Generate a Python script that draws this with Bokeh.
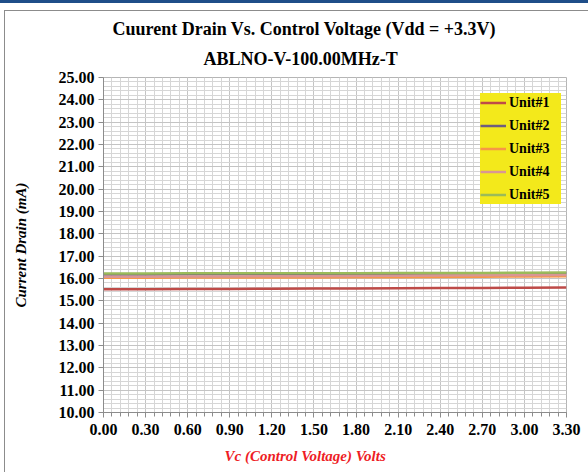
from bokeh.plotting import figure
from bokeh.models import (Range1d, FixedTicker, PrintfTickFormatter, Legend, LegendItem, Title)
from bokeh.embed import file_html
from bokeh.resources import INLINE

# ---- data ----
vc = [0.0, 0.3, 0.6, 0.9, 1.2, 1.5, 1.8, 2.1, 2.4, 2.7, 3.0, 3.3]
unit1 = [15.52, 15.52, 15.53, 15.53, 15.54, 15.55, 15.55, 15.56, 15.57, 15.58, 15.59, 15.60]
unit2 = [16.18, 16.18, 16.19, 16.19, 16.20, 16.20, 16.21, 16.21, 16.22, 16.22, 16.23, 16.23]
unit3 = [16.03, 16.03, 16.04, 16.04, 16.05, 16.05, 16.06, 16.06, 16.07, 16.08, 16.09, 16.10]
unit4 = [16.08, 16.08, 16.09, 16.09, 16.10, 16.10, 16.11, 16.12, 16.13, 16.14, 16.15, 16.16]
unit5 = [16.22, 16.22, 16.23, 16.23, 16.23, 16.24, 16.24, 16.25, 16.25, 16.25, 16.26, 16.27]
series_names = ["Unit#1", "Unit#2", "Unit#3", "Unit#4", "Unit#5"]
series_values = [unit1, unit2, unit3, unit4, unit5]
series_colors = ["#be4b48", "#6e5d80", "#f79646", "#d99694", "#9bbb59"]

x_ticks = [0.0, 0.3, 0.6, 0.9, 1.2, 1.5, 1.8, 2.1, 2.4, 2.7, 3.0, 3.3]
x_minor = [round(i * 0.06, 2) for i in range(56)]
y_ticks = list(range(10, 26))
y_minor = [round(10 + i * 0.2, 1) for i in range(76)]

title1 = "Cuurent Drain Vs. Control Voltage (Vdd = +3.3V)"
title2 = "ABLNO-V-100.00MHz-T"
x_label = "Vc (Control Voltage) Volts"
y_label = "Current Drain (mA)"

FONT = "Liberation Serif"

# page decoration (blue top bar + grey chart border) drawn as the host background
page_bg = ("linear-gradient(#1f4e89,#1f4e89) 0 0/100% 3px no-repeat, "
           "linear-gradient(#8c8c8c,#8c8c8c) 4px 10px/100% 1px no-repeat, "
           "linear-gradient(#8c8c8c,#8c8c8c) 4px 10px/1px 100% no-repeat, #ffffff")

p = figure(width=588, height=472, output_backend="svg", toolbar_location=None,
           x_range=Range1d(0, 3.3), y_range=Range1d(10, 25),
           min_border_left=103, min_border_right=22, min_border_top=77, min_border_bottom=60,
           background_fill_color="white", border_fill_color="white", border_fill_alpha=0.0,
           styles={"background": page_bg})
p.outline_line_color = "#b5b5b5"

# titles (line 2 first so it sits nearest the frame)
t2 = Title(text=title2, align="left", offset=100, text_font=FONT, text_font_size="18px",
           text_font_style="bold", text_color="#000000", standoff=18)
t1 = Title(text=title1, align="left", offset=9, text_font=FONT, text_font_size="18px",
           text_font_style="bold", text_color="#000000", standoff=-3)
p.add_layout(t2, "above")
p.add_layout(t1, "above")

# x label as title below
tx = Title(text=x_label, align="left", offset=121, text_font=FONT, text_font_size="15px",
           text_font_style="bold italic", text_color="#ee1c25", standoff=17)
p.add_layout(tx, "below")

# axes
p.xaxis.ticker = FixedTicker(ticks=x_ticks, minor_ticks=x_minor)
p.yaxis.ticker = FixedTicker(ticks=y_ticks, minor_ticks=y_minor)
p.xaxis.formatter = PrintfTickFormatter(format="%.2f")
p.yaxis.formatter = PrintfTickFormatter(format="%.2f")
for ax in (p.xaxis, p.yaxis):
    ax.major_label_text_font = FONT
    ax.major_label_text_font_size = "16px"
    ax.major_label_text_font_style = "bold"
    ax.major_label_text_color = "#000000"
    ax.axis_line_color = "#8c8c8c"
    ax.major_tick_line_color = "#8c8c8c"
    ax.minor_tick_line_color = "#8c8c8c"
    ax.major_tick_in = 0
    ax.minor_tick_in = 0
p.xaxis.major_tick_out = 5
p.xaxis.minor_tick_out = 4
p.xaxis.major_label_standoff = 6
p.yaxis.major_tick_out = 5
p.yaxis.minor_tick_out = 0
p.yaxis.major_label_standoff = 4
p.yaxis.axis_label = y_label
p.yaxis.axis_label_text_font = FONT
p.yaxis.axis_label_text_font_size = "15px"
p.yaxis.axis_label_text_font_style = "bold italic"
p.yaxis.axis_label_text_color = "#000000"
p.yaxis.axis_label_standoff = 27

# grid
p.xgrid.grid_line_color = "#c4c4c4"
p.ygrid.grid_line_color = "#c4c4c4"
p.xgrid.minor_grid_line_color = "#d6d6d6"
p.ygrid.minor_grid_line_color = "#d6d6d6"

items = []
for name, vals, col in zip(series_names, series_values, series_colors):
    r = p.line(vc, vals, line_color=col, line_width=2.5)
    items.append(LegendItem(label=name, renderers=[r]))

legend = Legend(items=items, location=(377, 208), background_fill_color="#f3e91b",
                background_fill_alpha=1.0, border_line_color=None,
                label_text_font=FONT, label_text_font_size="14px", label_text_font_style="bold",
                label_text_color="#000000", glyph_width=26, glyph_height=19, label_height=19,
                label_width=52, spacing=4, padding=4, margin=0, label_standoff=3)
p.add_layout(legend, "center")

open("out.html", "w").write(file_html(p, INLINE))
